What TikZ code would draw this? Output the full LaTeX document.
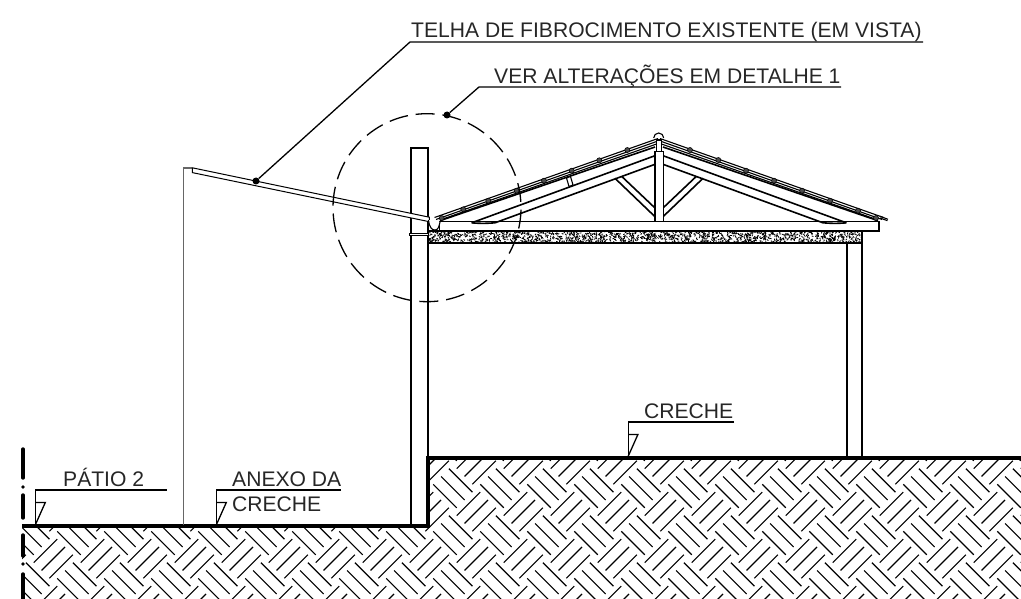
\documentclass[tikz,border=0pt]{standalone}
\usepackage{fontspec}
\setmainfont{Liberation Sans}
\tikzset{
  label/.style={inner sep=0pt,anchor=base west,text=black!85,font=\fontsize{21.1}{23}\selectfont},
  thick line/.style={line width=4pt,line cap=butt},
  struct/.style={line width=1.6pt},
  thin line/.style={line width=1.1pt},
  leader/.style={line width=1.3pt},
  hatchline/.style={line width=1.15pt},
  level/.style={line width=1.3pt,line join=miter},
  dot/.style={fill=black,circle,inner sep=0pt,minimum size=7pt},
  purlin/.style={fill=black!70,draw=black,line width=.6pt},
}
\begin{document}
\begin{tikzpicture}[x=1pt,y=-1pt]
  \useasboundingbox (0,0) rectangle (1021,599);
  % ground hatch
  \begin{scope}
    \clip (22,526) -- (428,526) -- (428,458) -- (1021,458) -- (1021,599) -- (22,599) -- cycle;
    \begin{scope}[shift={(523.3,511.7)},x={(23.5pt,23.5pt)},y={(23.5pt,-23.5pt)}]
      \foreach \i in {-14,...,14} \foreach \j in {-14,...,14} {
        \pgfmathtruncatemacro{\tilesum}{\i+\j+100}
        \ifodd\tilesum
          \foreach \k in {-0.3333,0,0.3333}
            \draw[hatchline] (\i+\k,\j-0.5) -- (\i+\k,\j+0.5);
        \else
          \foreach \k in {-0.3333,0,0.3333}
            \draw[hatchline] (\i-0.5,\j+\k) -- (\i+0.5,\j+\k);
        \fi
      }
    \end{scope}
  \end{scope}
  % ground line
  \coordinate (G1) at (22,525.5);
  \coordinate (G2) at (427.7,525.5);
  \coordinate (G3) at (427.7,458.2);
  \coordinate (G4) at (1021,458.2);
  \draw[thick line,line join=miter] (G1) -- (G2) -- (G3) -- (G4);
  % break line
  \foreach \ya/\yb in {449/478,495/518,535/556,574/599}
    \draw[line width=3.4pt,line cap=round] (23,\ya) -- (23,\yb);
  \foreach \ya in {487,564}
    \fill (23,\ya) circle (1.8);
  % walls
  \coordinate (W1) at (183.3,525);
  \coordinate (W2) at (183.3,168);
  \coordinate (W3) at (192.3,168);
  \draw[line width=1.2pt,black!60] (W1) -- (W2) -- (W3);
  \draw[struct] (411,525) -- (411,148) -- (427.7,148) -- (427.7,458);
  \draw[struct] (847,458) -- (847,243);
  \draw[struct] (861.8,458) -- (861.8,231);
  % fibrocement sheet
  \coordinate (F1) at (192.3,167.8);
  \coordinate (F2) at (429.3,217.2);
  \coordinate (F3) at (429.3,221.7);
  \coordinate (F4) at (192.3,172.6);
  \draw[line width=1pt,fill=white] (F1) -- (F2) -- (F3) -- (F4) -- cycle;
  % slab
  \begin{scope}
    \clip (428,231) rectangle (862,242.5);
    \pgfmathsetseed{11}
    \foreach \n in {1,...,1500} {
      \pgfmathsetmacro{\sx}{428+rnd*434}
      \pgfmathsetmacro{\sy}{231+rnd*12}
      \pgfmathsetmacro{\sa}{rnd*180}
      \draw[line width=.8pt] (\sx,\sy) -- ++(\sa:1.8);
    }
  \end{scope}
  \draw[line width=2pt] (428,242.5) -- (862,242.5);
  % tie beam
  \draw[struct,fill=white] (439.5,221.5) rectangle (879,231);
  \draw[line width=2pt] (428,231) -- (439.5,231);
  % gutter and flashing
  \draw[thin line,fill=white] (428.5,220) .. controls (429.5,228) and (432,230) .. (435,230) .. controls (438,230) and (439,227) .. (440,222);
  \draw[thin line,fill=white] (409.5,233.3) rectangle (428.5,235.8);
  % truss, one half then the other
  \foreach \side/\flip in {0/1,1318/-1} {
    \begin{scope}[shift={(\side,0)},xscale=\flip]
      \draw[struct] (440,220.7) -- (655,147);
      \draw[struct] (471.7,222.8) -- (655,155.7);
      \draw[struct] (471.7,222.8) .. controls (480,223.6) and (488,223.4) .. (495,222.8);
      \draw[struct] (495,222.8) -- (655,164.3);
      \draw[struct] (615,178.3) -- (655,216.7);
      \draw[struct] (621.7,176.4) -- (655,208);
      \draw[thin line] (434.5,217.5) -- (658,138.5);
      \draw[thin line] (436,219.5) -- (658,141);
      \draw[thin line] (440,220) -- (658,143.5);
    \end{scope}
  }
  \draw[thin line] (880,216.3) -- (888,219.3);
  \draw[thin line] (880,218) -- (887.5,220.7);
  \draw[thin line,fill=white] (566.5,178) -- (569,186.5) -- (573,185) -- (570.5,176.5) -- cycle;
  % king post
  \draw[struct,fill=white] (655,221.5) -- (655,151.5) -- (663.3,151.5) -- (663.3,221.5);
  \draw[thin line,fill=white] (653.7,138) arc[start angle=180,end angle=360,radius=5];
  \draw[thin line,fill=white] (656.5,140) rectangle (661.7,151.5);
  % purlins
  \foreach \px/\py in {441.7/218,463.3/209.3,488.3/200.7,516.7/190.7,544/180.7,571.7/170.7,599.3/160.3,627.3/150,
    690/150,718.3/160,746/170.7,774/180.7,802/190.7,830/200.7,858/210.7,876/218}
    \draw[purlin] (\px,\py) circle (2.5);
  % detail circle and leaders
  \coordinate (C) at (427,207.7);
  \draw[line width=1.3pt,dash pattern=on 19pt off 7.85pt,dash phase=24.85pt] (C) circle (94);
  \node[dot] (D1) at (256,181) {};
  \node[dot] (D2) at (447,115) {};
  \coordinate (T1) at (410,42);
  \coordinate (T2) at (923,42);
  \coordinate (V1) at (479,87);
  \coordinate (V2) at (841,87);
  \draw[leader] (D1) -- (T1) -- (T2);
  \draw[leader] (D2) -- (V1) -- (V2);
  \node[label] (telha) at (411,38) {TELHA DE FIBROCIMENTO EXISTENTE (EM VISTA)};
  \node[label] (ver) at (494,83.5) {VER ALTERAÇÕES EM DETALHE 1};
  % levels
  \foreach \lx/\ly/\lw in {35.7/490/166.7,216.7/490/341,628.3/422/734} {
    \draw[level] (\lw,\ly) -- (\lx,\ly) -- (\lx,\ly+34);
    \draw[level] (\lx,\ly+12.5) -- (\lx+9.6,\ly+12.5) -- (\lx,\ly+34);
  }
  \node[label] (patio) at (63,486) {PÁTIO 2};
  \node[label] (anexo) at (232,486) {ANEXO DA};
  \node[label] (creche) at (232,511) {CRECHE};
  \node[label] (crechetop) at (644,418) {CRECHE};
\end{tikzpicture}
\end{document}
